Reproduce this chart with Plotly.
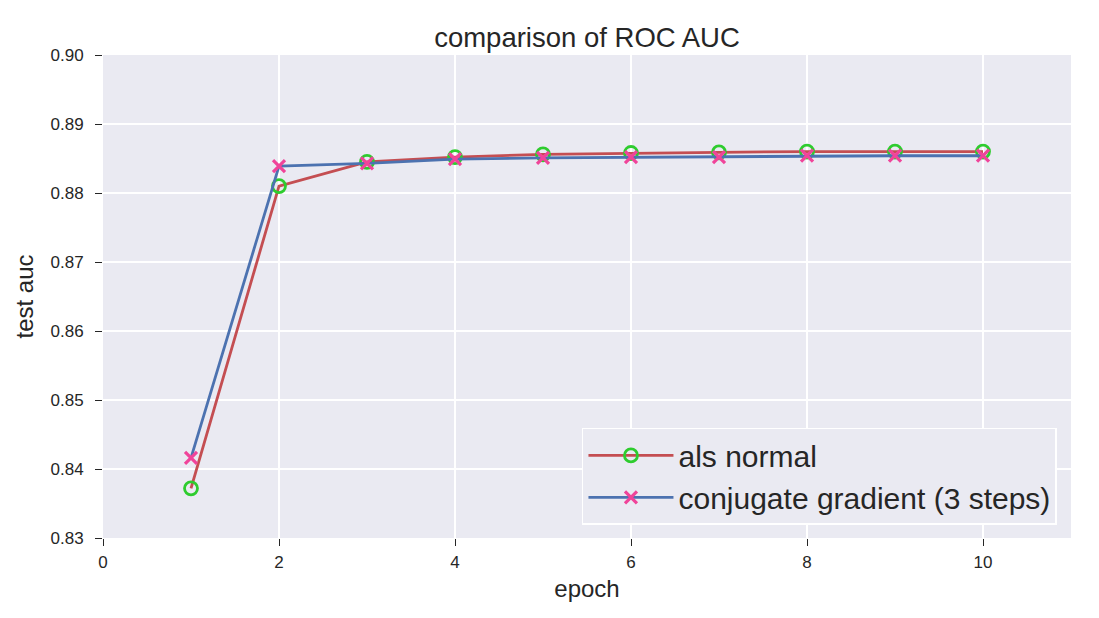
import plotly.graph_objects as go

epochs = [1, 2, 3, 4, 5, 6, 7, 8, 9, 10]
als_normal = [0.8372, 0.8810, 0.8845, 0.8852, 0.8856, 0.8858, 0.8859, 0.8860, 0.8860, 0.8860]
conjugate_gradient = [0.8416, 0.8839, 0.8843, 0.8849, 0.8851, 0.8852, 0.8852, 0.8854, 0.8854, 0.8854]

x_ticks = [0, 2, 4, 6, 8, 10]
y_ticks = [0.83, 0.84, 0.85, 0.86, 0.87, 0.88, 0.89, 0.90]

font_family = "Arial, Liberation Sans, sans-serif"

fig = go.Figure()

fig.add_trace(go.Scatter(
    x=epochs, y=als_normal, name="als normal",
    mode="lines+markers",
    line=dict(color="#C44E52", width=2.8),
    marker=dict(symbol="circle-open", size=13, color="#2ECC2E", line=dict(width=2.8, color="#2ECC2E")),
))

fig.add_trace(go.Scatter(
    x=epochs, y=conjugate_gradient, name="conjugate gradient (3 steps)",
    mode="lines+markers",
    line=dict(color="#4C72B0", width=2.8),
    marker=dict(symbol="x-thin-open", size=12, color="#F0449A", line=dict(width=3.2, color="#F0449A")),
))

# the page body adds an 8px margin, so the figure is a bit smaller than the window
fig.update_layout(
    width=1091, height=610,
    margin=dict(l=95, r=28, t=47, b=80),
    paper_bgcolor="white",
    plot_bgcolor="#EAEAF2",
    font=dict(family=font_family, color="#262626"),
    title=dict(text="comparison of ROC AUC", xref="paper", x=0.5, xanchor="center", y=0.952, yanchor="middle",
               font=dict(size=27.5, color="#262626")),
    legend=dict(
        x=0.9855, y=0.027, xanchor="right", yanchor="bottom",
        bgcolor="#EAEAF2", bordercolor="white", borderwidth=1.5,
        font=dict(size=30, color="#262626"),
        itemwidth=85,
        tracegroupgap=0,
    ),
)

fig.update_xaxes(
    range=[0, 11], tickvals=x_ticks, ticks="outside", ticklen=7, tickwidth=1.2, tickcolor="#262626",
    showgrid=True, gridcolor="white", gridwidth=1.5, zeroline=False, showline=False, automargin=False,
    ticklabelstandoff=2,
    tickfont=dict(size=17), title=dict(text="epoch", font=dict(size=24), standoff=8),
)

fig.update_yaxes(
    range=[0.83, 0.90], tickvals=y_ticks, tickformat=".2f", ticks="outside", ticklen=7, tickwidth=1.2,
    tickcolor="#262626", showgrid=True, gridcolor="white", gridwidth=1.5, zeroline=False, showline=False,
    automargin=False, ticklabelstandoff=8,
    tickfont=dict(size=17), title=dict(text="test auc", font=dict(size=24), standoff=10),
)

fig.write_html("out.html")
